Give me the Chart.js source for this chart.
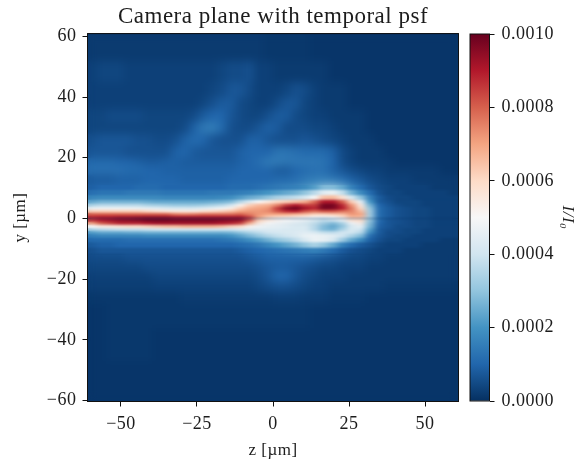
<!DOCTYPE html>
<html><head><meta charset="utf-8">
<style>
html,body{margin:0;padding:0;background:#fff;width:576px;height:461px;overflow:hidden}
canvas{position:absolute;left:0;top:0}
</style>
<script src="https://cdn.jsdelivr.net/npm/chart.js@4"></script>
</head><body>
<svg width="0" height="0" style="position:absolute">
<filter id="soft" x="-5%" y="-5%" width="110%" height="110%" color-interpolation-filters="sRGB"><feGaussianBlur stdDeviation="3.2 1.3"/></filter>
<filter id="wide" x="-5%" y="-5%" width="110%" height="110%" color-interpolation-filters="sRGB"><feGaussianBlur stdDeviation="4 4"/></filter>
</svg>
<canvas id="main" width="576" height="461"></canvas>
<canvas id="bar" width="576" height="461"></canvas>
<script>
const titleText = 'Camera plane with temporal psf';
const xLabel = 'z [µm]';
const yLabel = 'y [µm]';
const cbLabel = 'I/I₀';
const xTicks = [-50,-25,0,25,50];
const yTicks = [-60,-40,-20,0,20,40,60];
const cbTicks = [0,0.0002,0.0004,0.0006,0.0008,0.001];
const cbAnchors = ['#053061','#2166ac','#4393c3','#92c5de','#d1e5f0','#f7f7f7','#fddbc7','#f4a582','#d6604d','#b2182b','#67001f'];
const zCenters = [-59.475,-56.425,-53.375,-50.325,-47.275,-44.225,-41.175,-38.125,-35.075,-32.025,-28.975,-25.925,-22.875,-19.825,-16.775,-13.725,-10.675,-7.625,-4.575,-1.525,1.525,4.575,7.625,10.675,13.725,16.775,19.825,22.875,25.925,28.975,32.025,35.075,38.125,41.175,44.225,47.275,50.325,53.375,56.425,59.475];
const rowEdges = [61,52,45,40,36,32,28,24,20,17.5,14.5,11.5,9.5,7.75,6.25,5,4,3,2,1,0,-1,-2,-3,-4,-5,-6.25,-7.75,-9.5,-11.5,-14.5,-17.5,-20.5,-24,-28,-36,-47,-61];
/* intensity in units of 1e-5, one list per row from top to bottom */
const intensity = [
[2,2,2,2,2,2,2,2,2,2,2,2,2,2,2,2,2,2,2,1.5,1.5,1.5,1.5,1.5,1,1,1,1,1,1,1,1,1,1,1,1,1,1,1,1],
[3,4,4,4,3,3,3,3,3,3,3,3,3,3,4,5,5,6,3,3,2,2,2,2,2,2,1,1,1,1,1,1,1,1,1,1,1,1,1,1],
[3,3,3,3,3,3,3,3,3,3,3,3,3,4,5,7,7,5,3,3,3,4,6,5,3,2,2,2,1,1,1,1,1,1,1,1,1,1,1,1],
[3,3,3,3,3,3,3,3,3,3,3,3,4,6,8,8,5,4,3,3,5,7,7,4,3,2,2,2,1,1,1,1,1,1,1,1,1,1,1,1],
[4,4,5,5,5,5,4,4,4,4,4,5,8,10,10,7,5,4,4,6,8,8,5,4,3,3,2,2,2,2,1,1,1,1,1,1,1,1,1,1],
[4,4,4,4,4,4,4,4,4,4,5,9,14,15,11,6,5,5,7,9,8,5,5,5,4,4,3,2,2,2,1,1,1,1,1,1,1,1,1,1],
[6,7,7,7,7,6,6,5,5,6,9,11,10,7,6,6,6,9,9,7,6,6,6,7,6,5,4,3,2,2,2,1,1,1,1,1,1,1,1,1],
[7,7,7,7,6,6,6,6,6,9,10,8,7,7,7,7,9,10,10,10,13,13,12,11,11,11,9,5,3,2,2,2,1,1,1,1,1,1,1,1],
[11,11,11,10,10,9,8,8,9,9,8,8,8,8,8,8,9,10,12,15,15,14,14,14,14,13,10,5,3,2,2,2,2,1,1,1,1,1,1,1],
[12,12,12,12,11,11,10,10,9,9,9,9,9,9,9,9,10,10,10,10,8,8,10,11,12,12,9,7,5,4,3,3,2,2,2,2,2,2,1,1],
[8,8,8,9,9,9,10,10,10,10,9,9,9,9,9,10,10,10,10,10,11,11,12,14,15,15,14,12,9,7,5,4,3,3,3,2,2,2,2,2],
[9,10,10,10,10,11,11,11,10,10,10,10,10,10,10,11,11,11,12,13,14,15,16,18,22,28,28,24,16,11,7,5,4,3,3,3,3,2,2,2],
[12,13,13,13,14,14,14,14,13,13,13,13,13,14,14,14,15,16,18,20,22,24,26,30,36,44,46,38,26,18,11,6,4,4,3,3,3,3,3,2],
[17,18,18,18,18,18,18,18,17,17,17,17,17,17,18,19,22,25,27,30,34,36,38,42,50,65,66,58,42,30,16,8,5,4,4,3,3,3,3,3],
[24,26,26,26,26,26,25,24,24,24,24,24,24,25,26,28,35,42,50,55,60,62,65,68,78,90,90,80,62,45,20,8,6,4,4,4,3,3,3,3],
[34,36,36,36,36,36,34,33,32,31,31,31,32,34,36,40,52,62,66,68,75,85,90,85,85,98,98,88,72,55,26,10,7,5,4,4,3,3,3,3],
[46,47,47,47,47,46,45,44,42,41,41,41,43,45,48,53,62,68,70,72,85,96,99,92,88,98,97,90,76,60,30,11,8,6,5,4,4,3,3,3],
[62,62,62,62,62,62,60,58,56,55,55,55,58,60,62,65,70,72,72,74,82,88,90,82,78,82,82,78,75,66,32,11,8,6,5,4,4,3,3,3],
[80,80,80,80,80,80,80,80,80,76,75,76,78,78,78,78,80,76,72,70,70,70,68,66,62,62,64,66,72,70,32,11,8,6,5,4,4,3,3,3],
[88,90,90,92,92,93,94,94,94,92,92,92,92,92,92,92,92,85,70,62,58,56,54,52,50,48,50,56,66,66,32,11,8,6,5,4,4,3,3,3],
[86,90,92,94,95,96,98,98,98,97,97,97,97,97,96,95,94,82,62,56,52,50,48,46,42,38,40,46,58,60,30,11,7,6,5,4,4,3,3,3],
[70,80,84,88,88,88,90,92,92,92,92,92,92,92,90,88,84,68,55,50,48,46,44,42,38,32,28,34,48,54,28,10,7,6,5,4,4,3,3,3],
[50,55,56,58,60,60,62,64,66,66,68,68,68,68,66,62,60,52,48,46,45,44,42,42,36,28,24,30,42,46,26,9,7,5,5,4,4,3,3,3],
[34,36,37,38,38,38,39,40,40,40,40,40,40,40,40,40,42,43,43,43,43,42,42,42,36,28,26,34,42,40,22,8,6,5,4,4,3,3,3,3],
[22,24,24,24,25,25,26,26,26,26,26,26,26,26,26,27,30,34,37,40,41,42,43,44,42,38,37,40,40,36,18,8,5,5,4,4,3,3,3,3],
[16,17,17,17,17,17,18,18,18,18,18,18,18,18,18,20,23,27,31,35,38,40,42,46,47,46,44,40,34,28,12,7,5,4,4,3,3,3,3,3],
[11,11,11,11,12,12,12,12,12,12,12,12,12,12,13,14,16,19,22,26,30,33,37,42,47,46,42,32,24,18,9,6,4,4,3,3,3,3,2,2],
[8,9,9,10,10,10,10,10,10,10,10,10,10,10,10,10,11,12,14,17,20,23,26,30,34,30,24,16,11,8,6,4,3,3,3,3,2,2,2,2],
[6,7,7,7,7,7,7,7,7,7,7,7,7,7,7,7,8,9,10,11,12,13,14,15,16,14,11,8,6,5,4,3,3,3,2,2,2,2,2,2],
[5,5,5,5,6,6,6,6,6,6,6,6,6,6,6,6,6,7,8,9,9,9,9,9,8,7,6,5,4,4,3,3,2,2,2,2,2,2,2,2],
[4,4,4,4,4,4,5,5,5,5,5,5,5,5,5,5,5,5,6,7,8,8,7,6,5,4,4,3,3,3,2,2,2,2,2,2,2,2,2,2],
[3,3,3,3,3,3,3,4,4,4,4,4,4,4,4,4,4,4,5,7,10,10,7,5,4,3,3,3,2,2,2,2,2,2,2,2,2,2,2,2],
[2.5,2.5,2.5,2.5,2.5,2.5,2.5,3,3,3,3,3,3,3,3,3,3,3,4,5,6,6,5,4,3,3,2,2,2,2,2,2,1.5,1.5,1.5,1.5,1.5,1.5,1.5,1.5],
[1.5,1.5,1.5,1.5,1.5,1.5,1.5,1.5,1.5,1.5,2,2,2,2,2,2,2,2,2,2,2.5,2.5,2.5,2,2,2,1.5,1.5,1.5,1.5,1,1,1,1,1,1,1,1,1,1],
[1,1,1.5,1.5,1.5,1.5,1.5,1.5,1.5,1.5,1.5,1.5,1.5,1.5,1.5,1.5,1.5,1.5,1.5,1.5,1.5,1.5,1.5,1.5,1,1,1,1,1,1,1,1,1,1,1,1,1,1,1,1],
[1,1,1.5,1.5,1.5,1.5,1.5,1,1,1,1,1,1,1,1,1,1,1,1,1,1,1,1,1,1,1,1,1,1,1,1,1,1,1,1,1,1,1,1,1],
[1,1,1,1,1,1,1,1,1,1,1,1,1,1,1,1,1,1,1,1,1,1,1,1,1,1,1,1,1,1,1,1,1,1,1,1,1,1,1,1]
];
const serif = '"Liberation Serif", serif';
const ink = '#1c1c1c';

function hexRgb(h){return [1,3,5].map(i=>parseInt(h.substr(i,2),16));}
function colorFor(v){
  const t=Math.max(0,Math.min(1,v/100))*(cbAnchors.length-1);
  const i=Math.min(cbAnchors.length-2,Math.floor(t)),f=t-i;
  const a=hexRgb(cbAnchors[i]),b=hexRgb(cbAnchors[i+1]);
  return 'rgb('+a.map((c,k)=>Math.round(c+(b[k]-c)*f)).join(',')+')';
}
const minusFix = v => String(v).replace('-','\u2212');

const softenPlugin={id:'soften',
 beforeDraw(chart){chart.ctx.letterSpacing='0.5px';},
 beforeDatasetsDraw(chart){
  const a=chart.chartArea,ctx=chart.ctx;
  ctx.save();ctx.fillStyle=colorFor(1);ctx.fillRect(a.left,a.top,a.right-a.left,a.bottom-a.top);ctx.restore();
 },
 afterDatasetsDraw(chart){
  const a=chart.chartArea,ctx=chart.ctx,w=Math.ceil(a.right-a.left),h=Math.ceil(a.bottom-a.top);
  const l=Math.floor(a.left),t=Math.floor(a.top),yS=chart.scales.y;
  const off=document.createElement('canvas');off.width=w;off.height=h;
  off.getContext('2d').drawImage(chart.canvas,l,t,w,h,0,0,w,h);
  ctx.save();ctx.beginPath();ctx.rect(l,t,w,h);ctx.clip();
  ctx.filter='url(#soft)';ctx.drawImage(off,l,t);ctx.filter='none';ctx.restore();
  const top=yS.getPixelForValue(11),bot=yS.getPixelForValue(-12);
  ctx.save();ctx.beginPath();ctx.rect(l,t,w,top-t);ctx.rect(l,bot,w,t+h-bot);ctx.clip();
  ctx.filter='url(#wide)';ctx.drawImage(off,l,t);ctx.filter='none';ctx.restore();
 }};
const framePlugin={id:'frame',afterDraw(chart){
  const a=chart.chartArea,ctx=chart.ctx;
  ctx.save();ctx.strokeStyle='#111';ctx.lineWidth=1;
  ctx.strokeRect(a.left,a.top,a.right-a.left,a.bottom-a.top);ctx.restore();
}};

const heatSets=intensity.map((row,r)=>({
  data:row.map((v,c)=>({x:zCenters[c],y:[rowEdges[r+1],rowEdges[r]]})),
  backgroundColor:row.map(colorFor),
  borderWidth:0,grouped:false,barPercentage:1,categoryPercentage:1
}));
const fontTick={family:serif,size:18};
new Chart(document.getElementById('main'),{
  type:'bar',
  data:{datasets:heatSets},
  plugins:[softenPlugin,framePlugin],
  options:{
    responsive:false,animation:false,
    layout:{padding:{top:0,right:117.5,bottom:0,left:0}},
    plugins:{legend:{display:false},tooltip:{enabled:false},
      title:{display:true,text:titleText,fullSize:false,color:ink,font:{family:serif,size:23,weight:'normal'},padding:{top:3,bottom:3}}},
    scales:{
      x:{type:'linear',min:-61,max:61,offset:false,
        afterBuildTicks(s){s.ticks=xTicks.map(v=>({value:v}));},
        afterFit(s){s.height=59.5;},
        grid:{display:true,offset:false,drawOnChartArea:false,drawTicks:true,tickLength:5,color:'#111',lineWidth:1},
        border:{display:false},
        ticks:{color:ink,font:fontTick,padding:7,maxRotation:0,autoSkip:false,callback:minusFix},
        title:{display:true,text:xLabel,color:ink,font:{family:serif,size:17},padding:{top:0,bottom:0}}},
      y:{type:'linear',min:-60.3,max:60.9,
        afterBuildTicks(s){s.ticks=yTicks.map(v=>({value:v}));},
        afterFit(s){s.width=87.5;},
        grid:{display:true,drawOnChartArea:false,drawTicks:true,tickLength:5,color:'#111',lineWidth:1},
        border:{display:false},
        ticks:{color:ink,font:fontTick,padding:6,autoSkip:false,callback:minusFix},
        title:{display:true,text:yLabel,color:ink,font:{family:serif,size:17},padding:{top:10,bottom:2}}}
    }
  }
});
new Chart(document.getElementById('bar'),{
  type:'bar',
  data:{labels:['I'],datasets:[{data:[[0,0.001]],borderWidth:0,barPercentage:1,categoryPercentage:1,
    backgroundColor(ctx){
      const a=ctx.chart.chartArea;if(!a)return cbAnchors[0];
      const g=ctx.chart.ctx.createLinearGradient(0,a.bottom,0,a.top);
      cbAnchors.forEach((c,i)=>g.addColorStop(i/(cbAnchors.length-1),c));
      return g;
    }}]},
  plugins:[{id:'sp',beforeDraw(c){c.ctx.letterSpacing='0.5px';}},framePlugin],
  options:{
    responsive:false,animation:false,
    layout:{padding:{top:34,right:0,bottom:60,left:470}},
    plugins:{legend:{display:false},tooltip:{enabled:false}},
    scales:{
      x:{display:false},
      y:{position:'right',min:0,max:0.001,
        afterBuildTicks(s){s.ticks=cbTicks.map(v=>({value:v}));},
        afterFit(s){s.width=86.5;},
        grid:{display:true,drawOnChartArea:false,drawTicks:true,tickLength:5,color:'#111',lineWidth:1},
        border:{display:false},
        ticks:{color:ink,font:{family:serif,size:18},padding:7,autoSkip:false,callback:v=>v.toFixed(4)},
        title:{display:true,text:cbLabel,color:ink,font:{family:serif,size:17,style:'italic',lineHeight:1},padding:{top:0,bottom:0}}}
    }
  }
});
</script>
</body></html>
